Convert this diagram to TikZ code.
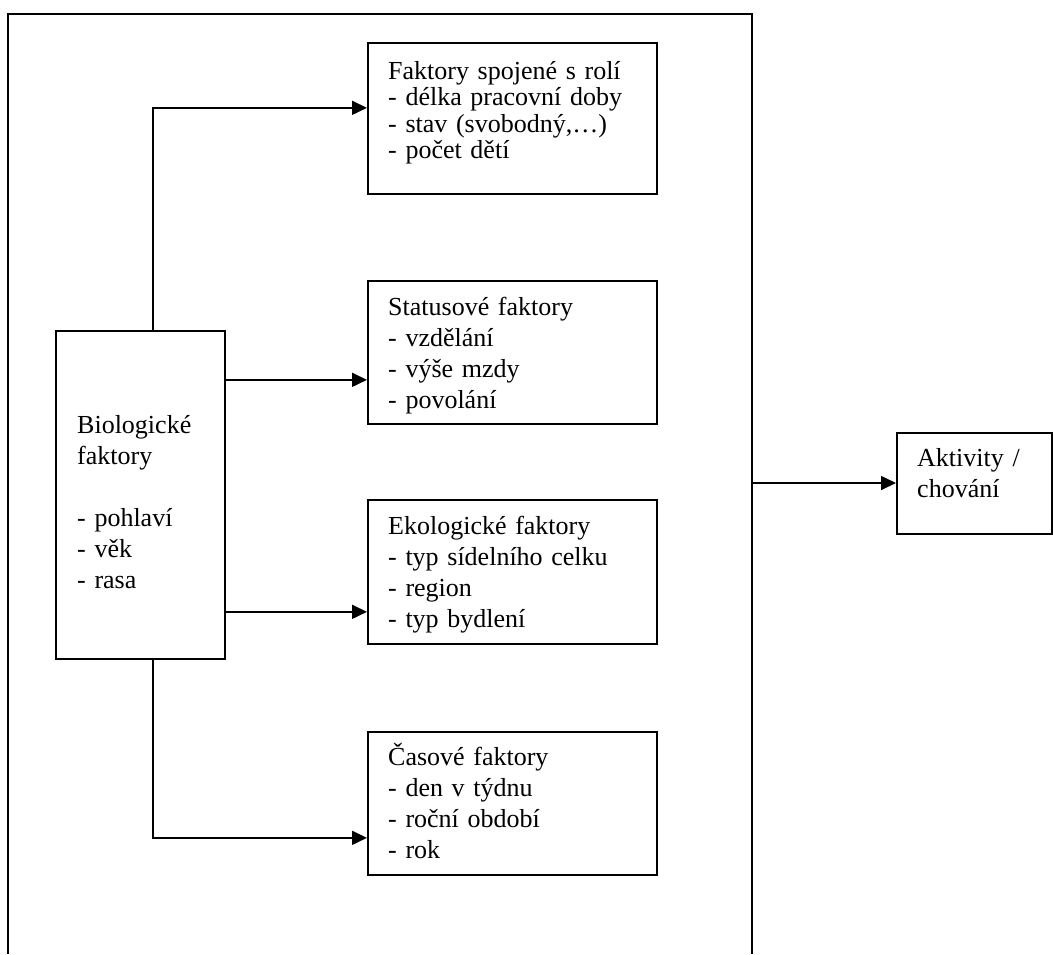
\documentclass[tikz,border=0pt]{standalone}
\usepackage{fontspec}
\setmainfont{Liberation Serif}
\usetikzlibrary{arrows.meta,calc}

\tikzset{
  line/.style={line width=1.7pt, black},
  box/.style={draw, line width=1.7pt, rectangle, inner sep=0pt, anchor=north west},
  label/.style={inner sep=0pt, anchor=base west, align=left,
    font=\fontsize{26pt}{31pt}\selectfont},
  arr/.style={line, -{Triangle[length=15pt,width=14pt]}},
}

\begin{document}
\begin{tikzpicture}[x=1pt, y=-1pt]
  \useasboundingbox (0,0) rectangle (1053,954);

  % surrounding frame, open towards the bottom
  \draw[line] (8,954) -- (8,14) -- (752,14) -- (752,954);
  \coordinate (frameR) at (752,483);

  % boxes
  \node[box, minimum width=169pt, minimum height=328pt] (bio) at (55,330) {};
  \node[box, minimum width=289pt, minimum height=151pt] (role) at (367,42) {};
  \node[box, minimum width=289pt, minimum height=143pt] (status) at (367,280) {};
  \node[box, minimum width=289pt, minimum height=144pt] (eco) at (367,499) {};
  \node[box, minimum width=289pt, minimum height=143pt] (time) at (367,731) {};
  \node[box, minimum width=155pt, minimum height=101pt] (act) at (896,432) {};

  % box texts
  \node[label, text width=140pt] (bioT) at (77,433)
    {Biologické\\faktory\\[31pt]- pohlaví\\- věk\\- rasa};
  \node[label, text width=260pt, font=\fontsize{26pt}{26.5pt}\selectfont] (roleT) at (388,79)
    {Faktory spojené s rolí\\- délka pracovní doby\\- stav (svobodný,…)\\- počet dětí};
  \node[label, text width=260pt] (statusT) at (388,315)
    {Statusové faktory\\- vzdělání\\- výše mzdy\\- povolání};
  \node[label, text width=260pt] (ecoT) at (388,534)
    {Ekologické faktory\\- typ sídelního celku\\- region\\- typ bydlení};
  \node[label, text width=260pt] (timeT) at (388,765)
    {Časové faktory\\- den v týdnu\\- roční období\\- rok};
  \node[label, text width=130pt] (actT) at (917,466)
    {Aktivity /\\chování};

  % connectors
  \draw[arr] ([xshift=12.5pt]bio.north) |- ([yshift=10.5pt]role.west);
  \draw[arr] ([yshift=115pt]bio.east) -- ([yshift=115pt]bio.east -| status.west);
  \draw[arr] ([yshift=-117pt]bio.east) -- ([yshift=-117pt]bio.east -| eco.west);
  \draw[arr] ([xshift=12.5pt]bio.south) |- ([yshift=-34.5pt]time.west);
  \draw[arr] (frameR) -- (frameR -| act.west);
\end{tikzpicture}
\end{document}
